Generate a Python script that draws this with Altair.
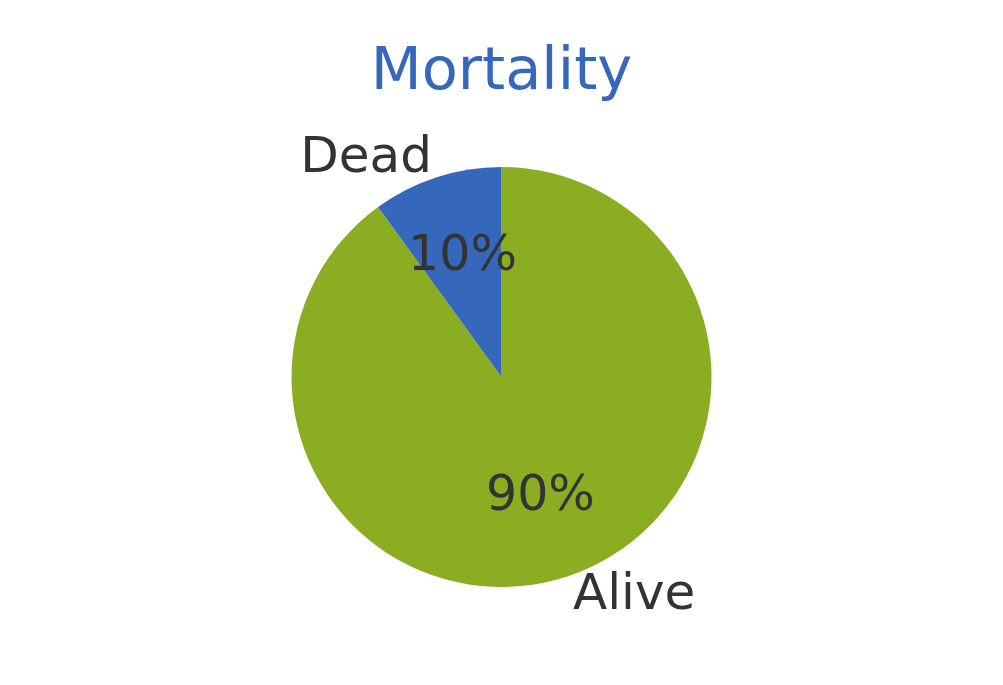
import altair as alt
import pandas as pd

categories = ["Alive", "Dead"]
values = [90, 10]
pct_labels = ["90%", "10%"]
order = [1, 2]
colors = ["#8AAD22", "#3567BA"]

df = pd.DataFrame({"category": categories, "value": values, "pct": pct_labels, "ord": order})

base = alt.Chart(df).encode(
    theta=alt.Theta("value:Q", stack=True),
    order=alt.Order("ord:Q"),
)

pie = base.mark_arc(outerRadius=210).encode(
    color=alt.Color("category:N", scale=alt.Scale(domain=categories, range=colors), legend=None)
)

pct = base.mark_text(radius=126, fontSize=49, font="DejaVu Sans", color="#333333",
                     align="center", baseline="middle", dy=-2).encode(text="pct:N")

dead_lbl = base.mark_text(radius=225, fontSize=50, font="DejaVu Sans", color="#333333",
                          align="right", baseline="middle", dy=-6, dx=0).encode(
    text=alt.condition("datum.category == 'Dead'", alt.Text("category:N"), alt.value(""))
)
alive_lbl = base.mark_text(radius=225, fontSize=50, font="DejaVu Sans", color="#333333",
                           align="left", baseline="middle", dx=2, dy=3).encode(
    text=alt.condition("datum.category == 'Alive'", alt.Text("category:N"), alt.value(""))
)

chart = alt.layer(pie, pct, dead_lbl, alive_lbl).properties(
    width=1003,
    height=554,
    title=alt.TitleParams("Mortality", fontSize=59, font="DejaVu Sans", color="#3567BA",
                          fontWeight="normal", anchor="middle", baseline="alphabetic",
                          offset=10, dy=58),
    autosize=alt.AutoSizeParams(type="none"),
    padding={"top": 100, "left": 0, "right": 0, "bottom": 0},
).configure_view(stroke=None).configure(background="white")

chart.save("out.html", embed_options={"renderer": "svg", "actions": False})
